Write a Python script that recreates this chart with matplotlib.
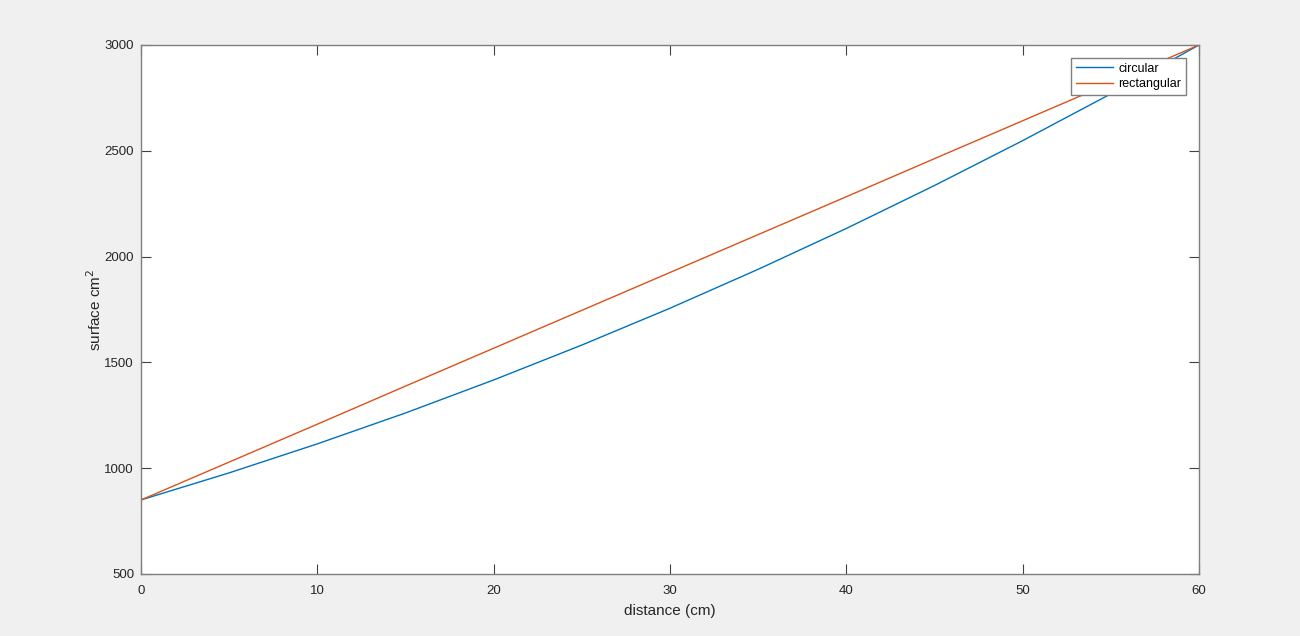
import matplotlib.pyplot as plt

plt.rcParams['font.family'] = ['Liberation Sans', 'DejaVu Sans']

# distancia (cm)
distancia = [0, 5, 10, 15, 20, 25, 30, 35, 40, 45, 50, 55, 60]
# superficie
circular = [850, 978, 1115, 1261, 1417, 1582, 1756, 1940, 2133, 2336, 2548, 2769, 3000]
rectangular = [850, 1029, 1208, 1388, 1567, 1746, 1925, 2104, 2283, 2463, 2642, 2821, 3000]

xticks = [0, 10, 20, 30, 40, 50, 60]
yticks = [500, 1000, 1500, 2000, 2500, 3000]

fig = plt.figure(figsize=(13, 6.36), dpi=100, facecolor='#f0f0f0')
ax = fig.add_axes([141 / 1300, 62 / 636, 1058 / 1300, 529 / 636])

ax.plot(distancia, circular, color='#0072BD', lw=1.0, label='circular')
ax.plot(distancia, rectangular, color='#D95319', lw=1.0, label='rectangular')

ax.set_xlim(0, 60)
ax.set_ylim(500, 3000)
ax.set_xticks(xticks)
ax.set_yticks(yticks)
ax.tick_params(direction='in', length=7, width=0.8, color='#404040',
               labelsize=9.5, labelcolor='#262626', top=True, right=True, pad=5)
ax.tick_params(axis='x', pad=8)
for s in ax.spines.values():
    s.set_color('#7f7f7f')
    s.set_linewidth(1.0)

ax.set_xlabel('distance (cm)', fontsize=11, color='#262626', labelpad=5)
ax.set_ylabel('surface cm$^2$', fontsize=11, color='#262626', labelpad=0)

leg = ax.legend(loc='upper right', bbox_to_anchor=(0.988, 0.976), borderaxespad=0,
                fontsize=9, fancybox=False, edgecolor='#7f7f7f', framealpha=1,
                handlelength=3.0, handletextpad=0.4, borderpad=0.4, labelspacing=0.3)
leg.get_frame().set_linewidth(1.0)

fig.savefig('out.png', dpi=100, facecolor=fig.get_facecolor())
